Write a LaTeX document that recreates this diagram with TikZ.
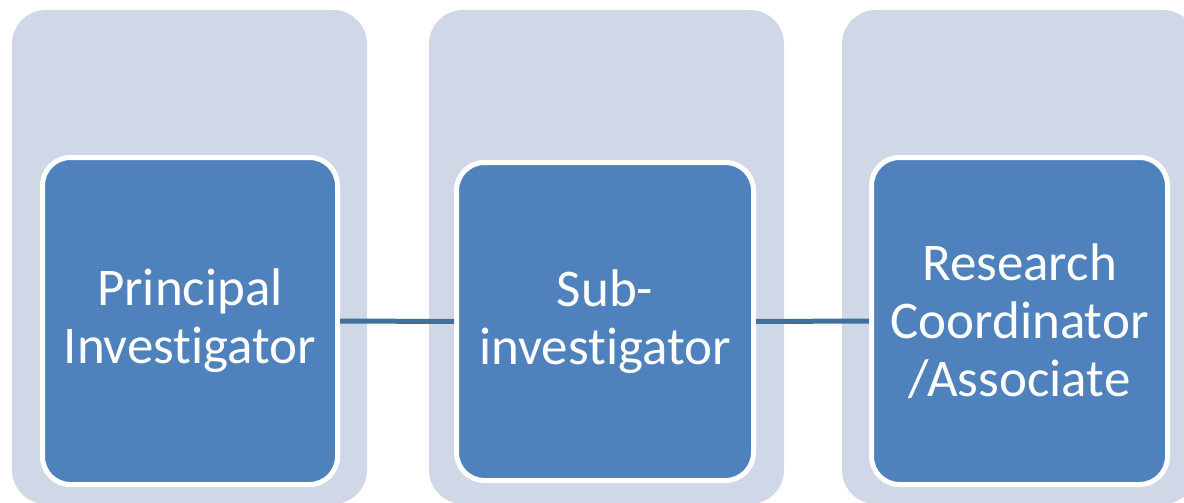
\documentclass[tikz,border=0pt]{standalone}
\usepackage{fontspec}
\setmainfont{Carlito}[Ligatures = NoCommon]
\definecolor{panelgray}{HTML}{D0D8E8}
\definecolor{boxblue}{HTML}{4F81BD}
\definecolor{linkblue}{HTML}{41709C}

\begin{document}
\begin{tikzpicture}[x = 1pt, y = -1pt,
	panel/.style = {fill = panelgray, rounded corners = 34pt, minimum width = 355pt, minimum height = 494pt, inner sep = 0},
	role/.style = {fill = boxblue, draw = white, line width = 5pt, rounded corners = 28pt, inner sep = 0, align = center, text = white, font = \fontsize{53}{58}\selectfont},
	link/.style = {draw = linkblue, line width = 5pt}]
	\useasboundingbox (0, 0) rectangle (1184, 503);
	\clip (0, 0) rectangle (1184, 503);

	\node[panel] (pan1) at (189.5, 257) {};
	\node[panel] (pan2) at (606.5, 257) {};
	\node[panel] (pan3) at (1019.5, 257) {};

	\node[role, minimum width = 295pt, minimum height = 327pt] (pi) at (190, 321) {Principal\\Investigator};
	\node[role, minimum width = 297pt, minimum height = 318pt] (sub) at (605, 321.5) {Sub-\\investigator};
	\node[role, minimum width = 296pt, minimum height = 327pt] (rc) at (1019.5, 321) {Research\\Coordinator\\/Associate};

	\draw[link] (pi.east) -- (sub.west);
	\draw[link] (sub.east) -- (rc.west);
\end{tikzpicture}
\end{document}
